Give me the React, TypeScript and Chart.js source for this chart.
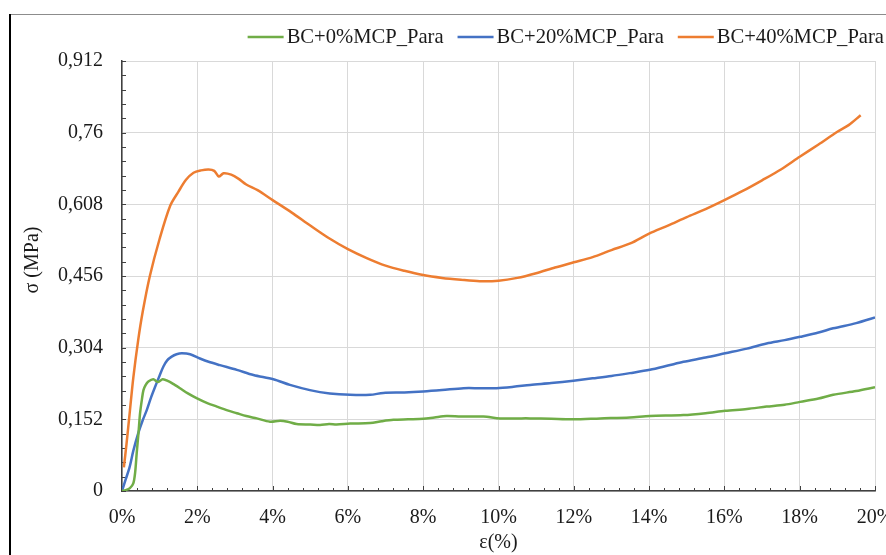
import React, { useEffect, useRef } from 'react';
import { Chart, registerables } from 'chart.js';

Chart.register(...registerables);

const SERIES_LABELS = ['BC+0%MCP_Para', 'BC+20%MCP_Para', 'BC+40%MCP_Para'];
const SERIES_COLORS = ['#70ad47', '#4472c4', '#ed7d31'];

const X_TICKS = [0, 2, 4, 6, 8, 10, 12, 14, 16, 18, 20];
const Y_TICKS = [0, 0.152, 0.304, 0.456, 0.608, 0.76, 0.912];

const X_TITLE = 'ε(%)';
const Y_TITLE = 'σ (MPa)';

// BC+0%MCP_Para
const STRAIN_0 = [0, 0.1, 0.21, 0.3, 0.35, 0.39, 0.44, 0.48, 0.53, 0.57, 0.63, 0.7, 0.83, 0.96, 1.08, 1.23, 1.4, 1.54, 1.75, 1.98, 2.25, 2.52, 2.8, 3.05, 3.3, 3.58, 3.93, 4.2, 4.4, 4.64, 5.0, 5.26, 5.5, 5.7, 6.06, 6.59, 6.9, 7.21, 7.6, 8.0, 8.3, 8.62, 9.0, 9.6, 10.04, 10.5, 10.84, 11.4, 11.99, 12.7, 13.49, 14.02, 14.91, 15.5, 16.02, 16.6, 17.12, 17.6, 18.01, 18.5, 18.89, 19.5, 20.0];
const STRESS_0 = [0, 0.002, 0.006, 0.016, 0.04, 0.08, 0.125, 0.165, 0.195, 0.214, 0.225, 0.232, 0.237, 0.231, 0.237, 0.233, 0.225, 0.218, 0.207, 0.197, 0.187, 0.179, 0.171, 0.165, 0.159, 0.154, 0.147, 0.149, 0.147, 0.142, 0.141, 0.14, 0.142, 0.141, 0.143, 0.144, 0.148, 0.151, 0.152, 0.153, 0.156, 0.159, 0.158, 0.158, 0.154, 0.154, 0.154, 0.153, 0.152, 0.154, 0.156, 0.159, 0.161, 0.165, 0.17, 0.174, 0.179, 0.183, 0.189, 0.196, 0.204, 0.212, 0.22];

// BC+20%MCP_Para
const STRAIN_20 = [0, 0.1, 0.2, 0.3, 0.43, 0.55, 0.66, 0.77, 0.88, 1.0, 1.1, 1.2, 1.32, 1.45, 1.59, 1.81, 2.07, 2.3, 2.6, 3.05, 3.49, 4.02, 4.46, 4.99, 5.52, 6.06, 6.59, 6.94, 7.5, 8.0, 8.5, 9.07, 9.5, 9.95, 10.4, 10.84, 11.4, 11.99, 12.5, 13.0, 13.49, 14.02, 14.5, 14.91, 15.5, 16.02, 16.6, 17.12, 17.6, 18.01, 18.5, 18.89, 19.5, 20.0];
const STRESS_20 = [0, 0.025, 0.05, 0.085, 0.122, 0.15, 0.172, 0.198, 0.221, 0.245, 0.264, 0.277, 0.285, 0.29, 0.292, 0.29, 0.281, 0.274, 0.267, 0.257, 0.246, 0.237, 0.225, 0.214, 0.207, 0.204, 0.204, 0.208, 0.209, 0.211, 0.214, 0.218, 0.218, 0.218, 0.221, 0.225, 0.229, 0.234, 0.239, 0.244, 0.25, 0.257, 0.266, 0.274, 0.283, 0.292, 0.302, 0.313, 0.32, 0.327, 0.336, 0.345, 0.356, 0.368];

// BC+40%MCP_Para
const STRAIN_40 = [0.05, 0.12, 0.21, 0.3, 0.43, 0.55, 0.74, 1.0, 1.28, 1.5, 1.7, 1.9, 2.1, 2.3, 2.45, 2.57, 2.7, 2.9, 3.1, 3.3, 3.6, 4.0, 4.5, 5.0, 5.5, 6.0, 6.5, 7.0, 7.5, 8.0, 8.5, 9.0, 9.5, 10.0, 10.5, 11.0, 11.5, 12.0, 12.5, 13.0, 13.5, 14.0, 14.5, 15.0, 15.5, 16.0, 16.5, 17.0, 17.5, 18.0, 18.5, 19.0, 19.3, 19.62];
const STRESS_40 = [0.05, 0.1, 0.17, 0.24, 0.32, 0.38, 0.456, 0.535, 0.605, 0.635, 0.66, 0.675, 0.68, 0.682, 0.679, 0.667, 0.674, 0.671, 0.662, 0.65, 0.638, 0.617, 0.591, 0.563, 0.536, 0.513, 0.494, 0.478, 0.467, 0.458, 0.452, 0.448, 0.445, 0.446, 0.452, 0.462, 0.474, 0.485, 0.496, 0.511, 0.525, 0.546, 0.563, 0.581, 0.598, 0.617, 0.637, 0.659, 0.682, 0.709, 0.735, 0.762, 0.776, 0.797];

const STRAINS = [STRAIN_0, STRAIN_20, STRAIN_40];
const STRESSES = [STRESS_0, STRESS_20, STRESS_40];

const FONT = 'Liberation Serif';
const TEXT_COLOR = '#1a1a1a';
const AXIS_COLOR = '#404040';

const fmtY = (v: number) => (v === 0 ? '0' : String(+v.toFixed(3)).replace('.', ','));

const decorPlugin = {
  id: 'decor',
  beforeDraw(chart: any) {
    const { ctx, width, height } = chart;
    ctx.save();
    ctx.fillStyle = '#ffffff';
    ctx.fillRect(0, 0, width, height);
    // outer frame
    ctx.strokeStyle = '#8c8c8c';
    ctx.lineWidth = 1;
    ctx.beginPath();
    ctx.moveTo(10, 14.5);
    ctx.lineTo(width, 14.5);
    ctx.stroke();
    ctx.strokeStyle = '#000000';
    ctx.lineWidth = 2;
    ctx.beginPath();
    ctx.moveTo(10, 14);
    ctx.lineTo(10, height);
    ctx.stroke();
    ctx.restore();
  },
  beforeDatasetsDraw(chart: any) {
    const { ctx, chartArea, scales } = chart;
    const x = scales.x;
    const y = scales.y;
    ctx.save();
    ctx.strokeStyle = AXIS_COLOR;
    ctx.lineWidth = 1;
    ctx.beginPath();
    for (let i = 0; i <= 50; i++) {
      const px = Math.round(x.getPixelForValue(i * 0.4)) + 0.5;
      const len = i % 5 === 0 ? 5 : 3;
      ctx.moveTo(px, chartArea.bottom);
      ctx.lineTo(px, chartArea.bottom - len);
    }
    for (let i = 0; i <= 30; i++) {
      const py = Math.round(y.getPixelForValue(i * 0.0304)) + 0.5;
      ctx.moveTo(chartArea.left, py);
      ctx.lineTo(chartArea.left + 4, py);
    }
    ctx.stroke();
    ctx.restore();
  },
  afterDraw(chart: any) {
    const { ctx, chartArea } = chart;
    ctx.save();
    // y axis title
    ctx.fillStyle = TEXT_COLOR;
    ctx.font = `20px "${FONT}"`;
    ctx.textAlign = 'center';
    ctx.textBaseline = 'middle';
    ctx.translate(33, (chartArea.top + chartArea.bottom) / 2 - 16);
    ctx.rotate(-Math.PI / 2);
    ctx.fillText(Y_TITLE, 0, 0);
    ctx.restore();

    // legend (right aligned)
    ctx.save();
    ctx.font = `20.6px "${FONT}"`;
    ctx.textBaseline = 'middle';
    ctx.textAlign = 'left';
    const lineLen = 36;
    const gapText = 3;
    const gapItem = 14;
    const ly = 37;
    const items = chart.data.datasets.map((ds: any) => ({
      label: ds.label,
      color: ds.borderColor,
      w: lineLen + gapText + ctx.measureText(ds.label).width,
    }));
    const total = items.reduce((s: number, it: any) => s + it.w, 0) + gapItem * (items.length - 1);
    let xPos = 884 - total;
    items.forEach((it: any) => {
      ctx.strokeStyle = it.color;
      ctx.lineWidth = 2.5;
      ctx.beginPath();
      ctx.moveTo(xPos, ly);
      ctx.lineTo(xPos + lineLen, ly);
      ctx.stroke();
      ctx.fillStyle = TEXT_COLOR;
      ctx.fillText(it.label, xPos + lineLen + gapText, ly + 1);
      xPos += it.w + gapItem;
    });
    ctx.restore();
  },
};

export default function App() {
  const canvasRef = useRef<HTMLCanvasElement | null>(null);

  useEffect(() => {
    const canvas = canvasRef.current;
    if (!canvas) return;
    const datasets = SERIES_LABELS.map((label, i) => ({
      label,
      data: STRAINS[i].map((sx, j) => ({ x: sx, y: STRESSES[i][j] })),
      borderColor: SERIES_COLORS[i],
      backgroundColor: SERIES_COLORS[i],
      borderWidth: 2.5,
      pointRadius: 0,
      tension: 0.3,
      fill: false,
    }));
    const chart = new Chart(canvas, {
      type: 'line',
      data: { datasets },
      options: {
        responsive: false,
        animation: false,
        devicePixelRatio: 1,
        layout: { padding: { top: 61, left: 0, right: 11, bottom: 0 } },
        plugins: { legend: { display: false }, tooltip: { enabled: false } },
        scales: {
          x: {
            type: 'linear',
            min: 0,
            max: 20,
            afterBuildTicks: (scale: any) => {
              scale.ticks = X_TICKS.map((v) => ({ value: v }));
            },
            afterFit: (scale: any) => {
              scale.height = 64;
              scale.paddingLeft = 0;
              scale.paddingRight = 0;
            },
            ticks: {
              callback: (v: any) => `${v}%`,
              font: { family: FONT, size: 20 },
              color: TEXT_COLOR,
              padding: 15,
              maxRotation: 0,
              autoSkip: false,
            },
            grid: { color: '#d9d9d9', lineWidth: 1, drawTicks: false },
            border: { display: true, color: AXIS_COLOR, width: 1.5 },
            title: {
              display: true,
              text: X_TITLE,
              font: { family: FONT, size: 20 },
              color: TEXT_COLOR,
              padding: { top: 0, bottom: 0 },
            },
          },
          y: {
            type: 'linear',
            min: 0,
            max: 0.912,
            afterBuildTicks: (scale: any) => {
              scale.ticks = Y_TICKS.map((v) => ({ value: v }));
            },
            afterFit: (scale: any) => {
              scale.width = 122;
              scale.paddingTop = 0;
              scale.paddingBottom = 0;
            },
            ticks: {
              callback: (v: any) => fmtY(Number(v)),
              font: { family: FONT, size: 20 },
              color: TEXT_COLOR,
              padding: 19,
              autoSkip: false,
            },
            grid: { color: '#d9d9d9', lineWidth: 1, drawTicks: false },
            border: { display: true, color: AXIS_COLOR, width: 1.5 },
          },
        },
      },
      plugins: [decorPlugin],
    } as any);
    return () => chart.destroy();
  }, []);

  return (
    <div style={{ position: 'absolute', left: 0, top: 0, width: 886, height: 555 }}>
      <canvas ref={canvasRef} width={886} height={555} style={{ width: 886, height: 555, display: 'block' }} />
    </div>
  );
}
